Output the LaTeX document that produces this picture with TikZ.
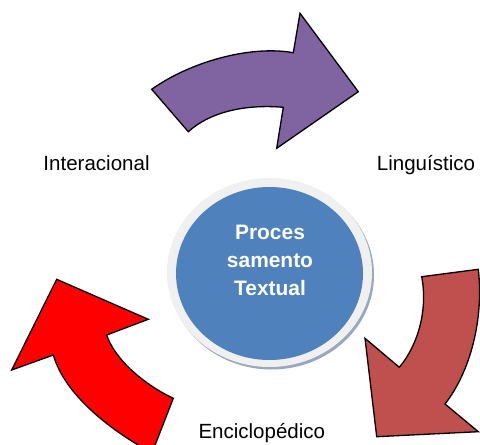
\documentclass[tikz,border=0pt]{standalone}
\usepackage{fontspec}
\setmainfont{Liberation Sans}
\usetikzlibrary{positioning}
\usetikzlibrary{shapes.geometric, shadows}

\definecolor{roxo}{HTML}{8064A2}
\definecolor{vermelho}{HTML}{FF0000}
\definecolor{tijolo}{HTML}{C0504D}
\definecolor{azul}{HTML}{4F81BD}
\definecolor{aro}{HTML}{F0F0F0}
\definecolor{sombra}{HTML}{9AA8BC}

\begin{document}
\begin{tikzpicture}[x=1bp, y=-1bp,
    seta/.style={draw=black, line width=1.3bp, line join=miter},
    rotulo/.style={font=\fontsize{20.6}{24}\selectfont, inner sep=0pt},
    anel/.style={ellipse, fill=aro, inner sep=0pt,
        drop shadow={shadow xshift=2bp, shadow yshift=-2.5bp, fill=sombra, opacity=1}},
    nucleo/.style={ellipse, fill=azul, inner sep=0pt}
]
    \useasboundingbox (0,0) rectangle (480,445);
    \clip (0,0) rectangle (480,445);

    % setas
    \draw[seta, fill=roxo] (151.7,89.3) .. controls (190,62) and (250,45) .. (293.3,52.7)
        -- (300,13.3) -- (358.3,91.7) -- (276.7,148.3) -- (283.3,107.3)
        .. controls (245,104) and (210,112) .. (188.3,131.7) -- cycle;
    \draw[seta, fill=tijolo] (421.7,276.7) -- (478.3,269.3)
        .. controls (484,320) and (470,372) .. (445,404)
        -- (478.3,431.7) -- (376.7,436.7) -- (365,338.3) -- (399.3,367.3)
        .. controls (418,345) and (428,310) .. cycle;
    \draw[seta, fill=vermelho] (11.7,370) -- (56.7,279.3) -- (148.3,319.3) -- (106.7,335)
        .. controls (115,360) and (145,385) .. (173.3,398.3) -- (152,453)
        .. controls (110,430) and (65,395) .. (53.3,355) -- cycle;

    % circulo central
    \node[anel, minimum width=205bp, minimum height=189bp] (aro) at (269.5,272.5) {};
    \node[nucleo, minimum width=187bp, minimum height=173bp] (centro) at (269.5,273.5) {};
    \node[anchor=north, inner sep=0pt, align=center, text=white,
        font=\fontsize{21}{28}\selectfont\bfseries] (texto) at (270,225) {Proces\\samento\\Textual};

    \node[rotulo, anchor=base west] (interacional) at (43.3,170.5) {Interacional};
    \node[rotulo, anchor=base west] (linguistico) at (376.7,170.5) {Linguístico};
    \node[rotulo, anchor=base west] (enciclopedico) at (198.3,438.3) {Enciclopédico};
\end{tikzpicture}
\end{document}
